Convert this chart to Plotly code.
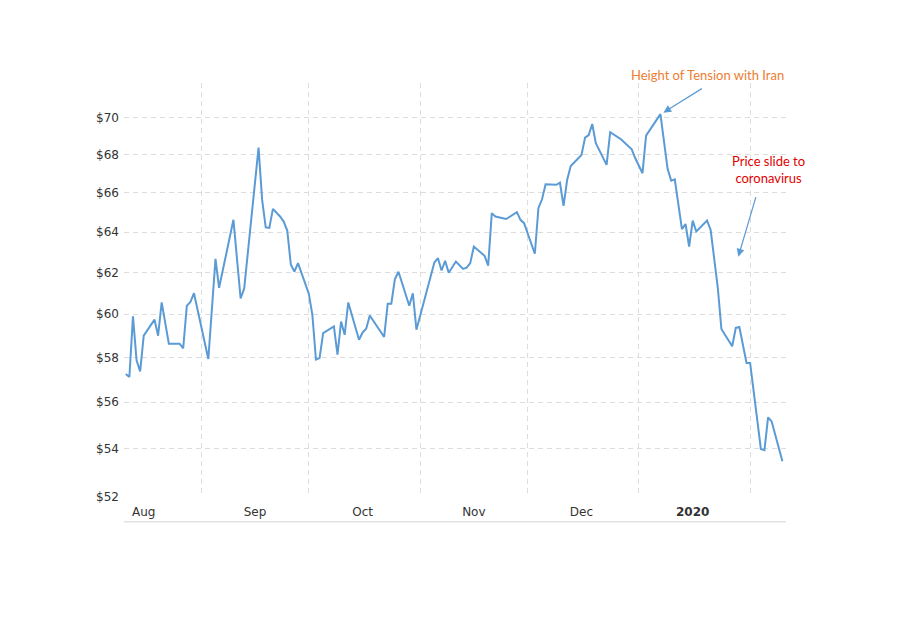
import math
import plotly.graph_objects as go

# ---- data ----
dates = [
    "2019-08-11", "2019-08-12", "2019-08-13", "2019-08-14", "2019-08-15", "2019-08-16",
    "2019-08-19", "2019-08-20", "2019-08-21", "2019-08-23", "2019-08-26", "2019-08-27",
    "2019-08-28", "2019-08-29", "2019-08-30",
    "2019-09-03", "2019-09-05", "2019-09-06", "2019-09-10", "2019-09-12", "2019-09-13",
    "2019-09-17", "2019-09-18", "2019-09-19", "2019-09-20", "2019-09-21", "2019-09-23",
    "2019-09-24", "2019-09-25", "2019-09-26", "2019-09-27", "2019-09-28",
    "2019-10-01", "2019-10-02", "2019-10-03", "2019-10-04", "2019-10-05", "2019-10-08",
    "2019-10-09", "2019-10-10", "2019-10-11", "2019-10-12", "2019-10-15", "2019-10-16",
    "2019-10-17", "2019-10-18", "2019-10-22", "2019-10-23", "2019-10-24", "2019-10-25",
    "2019-10-26", "2019-10-29", "2019-10-30", "2019-10-31",
    "2019-11-05", "2019-11-06", "2019-11-07", "2019-11-08", "2019-11-09", "2019-11-11",
    "2019-11-13", "2019-11-14", "2019-11-15", "2019-11-16", "2019-11-19", "2019-11-20",
    "2019-11-21", "2019-11-22", "2019-11-25", "2019-11-28", "2019-11-29", "2019-11-30",
    "2019-12-03", "2019-12-04", "2019-12-05", "2019-12-06", "2019-12-09", "2019-12-10",
    "2019-12-11", "2019-12-12", "2019-12-13", "2019-12-16", "2019-12-17", "2019-12-18",
    "2019-12-19", "2019-12-20", "2019-12-23", "2019-12-24", "2019-12-27", "2019-12-30",
    "2019-12-31",
    "2020-01-02", "2020-01-03", "2020-01-07", "2020-01-09", "2020-01-10", "2020-01-11",
    "2020-01-13", "2020-01-14", "2020-01-15", "2020-01-16", "2020-01-17", "2020-01-20",
    "2020-01-21", "2020-01-23", "2020-01-24", "2020-01-27", "2020-01-28", "2020-01-29",
    "2020-01-31", "2020-02-01",
    "2020-02-04", "2020-02-05", "2020-02-06", "2020-02-07", "2020-02-08", "2020-02-10",
]

prices = [
    57.25, 57.12, 59.90, 57.87, 57.37, 59.00, 59.75, 59.00, 60.56, 58.63, 58.63, 58.42,
    60.40, 60.58, 61.00,
    57.93, 62.67, 61.26, 64.62, 60.75, 61.23, 68.39, 65.64, 64.24, 64.21, 65.18, 64.79,
    64.53, 64.08, 62.38, 62.05, 62.46,
    60.98, 59.97, 57.90, 57.97, 59.12, 59.43, 58.13, 59.66, 59.04, 60.56, 58.81, 59.15,
    59.32, 59.94, 58.94, 60.50, 60.50, 61.68, 62.04, 60.40, 61.00, 59.28,
    62.49, 62.70, 62.10, 62.57, 61.99, 62.54, 62.18, 62.24, 62.46, 63.28, 62.82, 62.34,
    64.96, 64.79, 64.66, 65.01, 64.62, 64.45,
    62.92, 65.21, 65.67, 66.45, 66.42, 66.53, 65.33, 66.67, 67.41, 68.00, 68.93, 69.07,
    69.67, 68.63, 67.47, 69.22, 68.84, 68.30, 67.82,
    67.03, 69.04, 70.21, 67.26, 66.64, 66.71, 64.15, 64.41, 63.28, 64.58, 64.03, 64.58,
    64.11, 61.25, 59.31, 58.51, 59.36, 59.40, 57.75, 57.75,
    53.98, 53.93, 55.33, 55.16, 54.60, 53.46,
]

month_label_dates = ["2019-08-16", "2019-09-16", "2019-10-16", "2019-11-16", "2019-12-16", "2020-01-16"]
month_labels = ["Aug", "Sep", "Oct", "Nov", "Dec", "<b>2020</b>"]
month_grid_dates = ["2019-09-01", "2019-10-01", "2019-11-01", "2019-12-01", "2020-01-01", "2020-02-01"]

y_ticks = [52, 54, 56, 58, 60, 62, 64, 66, 68, 70]
y_labels = ["$%d" % v for v in y_ticks]

x_range = ["2019-08-10 12:00", "2020-02-11 00:00"]
y_range = [51.98, 71.95]

LINE_BLUE = "#5B9BD5"
GRID = "#dcdcdc"
TICK_FONT = dict(family="DejaVu Sans", size=12, color="#333333")

fig = go.Figure()
fig.add_trace(go.Scatter(
    x=dates, y=prices, mode="lines",
    line=dict(color=LINE_BLUE, width=2),
    hoverinfo="skip",
))

# the page body adds an 8px margin, so the figure is 8px smaller than the window
fig.update_layout(
    width=896, height=621,
    margin=dict(l=116, r=118, t=75, b=132),
    plot_bgcolor="white", paper_bgcolor="white",
    showlegend=False,
    xaxis=dict(
        type="date", range=x_range,
        tickmode="array", tickvals=month_label_dates, ticktext=month_labels,
        showgrid=False, zeroline=False, showline=False, ticks="",
        tickfont=TICK_FONT, ticklabelstandoff=6,
        minor=dict(tickmode="array", tickvals=month_grid_dates, showgrid=True,
                   gridcolor=GRID, griddash="5px,4px", gridwidth=1, ticks=""),
    ),
    yaxis=dict(
        type="log", range=[math.log10(y_range[0]), math.log10(y_range[1])],
        tickmode="array", tickvals=y_ticks, ticktext=y_labels,
        showgrid=True, gridcolor=GRID, griddash="5px,4px", gridwidth=1,
        zeroline=False, showline=False, ticks="",
        tickfont=TICK_FONT, ticklabelstandoff=4,
    ),
)

# bottom axis rule below month labels
fig.add_shape(type="line", xref="paper", yref="paper", x0=0, x1=1, y0=-0.06, y1=-0.06,
              line=dict(color="#d4d4d4", width=1))

# annotations
fig.add_annotation(
    text="Height of Tension with Iran", xref="paper", yref="paper",
    x=0.882, y=1.019, xanchor="center", yanchor="middle", showarrow=False,
    font=dict(family="Lato", size=13, color="#ED7D31"),
)
fig.add_annotation(
    text="", xref="paper", yref="paper", x=0.8147, y=0.9283,
    ax=40, ay=-25, axref="pixel", ayref="pixel",
    showarrow=True, arrowhead=2, arrowsize=1.3, arrowwidth=1.2, arrowcolor=LINE_BLUE,
    standoff=0,
)
fig.add_annotation(
    text="Price slide to<br>coronavirus", xref="paper", yref="paper",
    x=0.973, y=0.79, xanchor="center", yanchor="middle", showarrow=False,
    font=dict(family="Lato", size=13, color="#E00000"),
)
fig.add_annotation(
    text="", xref="paper", yref="paper", x=(738.3 - 124) / 662, y=(497 - 256.7) / 414,
    ax=18, ay=-61, axref="pixel", ayref="pixel",
    showarrow=True, arrowhead=2, arrowsize=1.3, arrowwidth=1.2, arrowcolor=LINE_BLUE,
    standoff=0,
)

fig.write_html("out.html")
